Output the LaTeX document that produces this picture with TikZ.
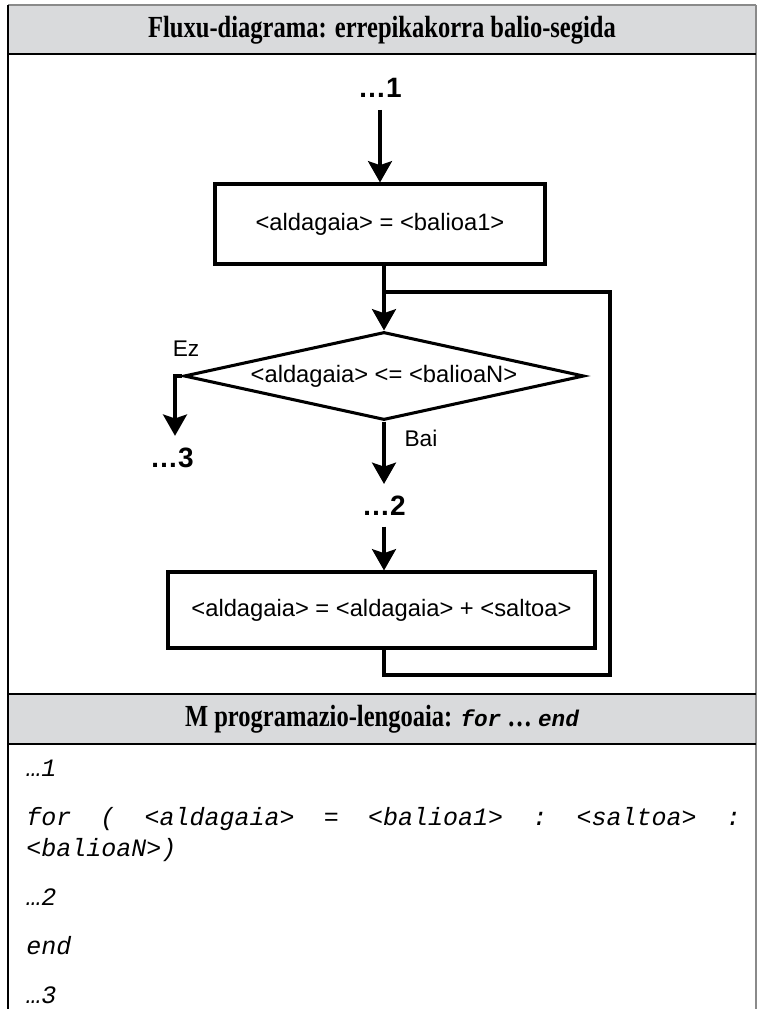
\documentclass[tikz,border=0pt]{standalone}
\usepackage{fontspec}
\setmainfont{Liberation Serif}
\newfontfamily\diagfont{Liberation Sans}
\newfontfamily\headfont[FakeStretch=0.8]{Liberation Serif}
\newfontfamily\codefont{Liberation Mono}
\usetikzlibrary{arrows.meta,shapes.geometric}
\definecolor{headgray}{HTML}{D9DADC}
\definecolor{edgegray}{HTML}{8A8A8A}

\begin{document}
\begin{tikzpicture}[
  x=0.75pt, y=-0.75pt,
  rule/.style={line width=1.1pt, black},
  flow/.style={line width=2.3pt, line join=miter},
  arr/.style={flow, -{Stealth[length=16pt,width=18pt,inset=3pt]}},
  stepbox/.style={draw, line width=2.3pt, inner sep=0pt,
    font=\diagfont\fontsize{17.8}{20}\selectfont},
  decision/.style={diamond, draw, line width=2.3pt, aspect=4.5, inner sep=0pt,
    minimum width=300pt, minimum height=66pt,
    font=\diagfont\fontsize{17.8}{20}\selectfont},
  marker/.style={inner sep=0pt, font=\diagfont\bfseries\fontsize{21}{24}\selectfont},
  answer/.style={inner sep=0pt, font=\diagfont\fontsize{17}{20}\selectfont},
  headtext/.style={inner sep=0pt, font=\headfont\bfseries\fontsize{23}{26}\selectfont},
  codeline/.style={anchor=base west, inner sep=0pt,
    font=\codefont\itshape\fontsize{18.75}{22}\selectfont},
  keyword/.style={font=\codefont\bfseries\itshape\fontsize{17}{20}\selectfont},
]
\useasboundingbox (0,0) rectangle (757,1009);

% table: header bands
\fill[headgray] (8,5) rectangle (756,54);
\fill[headgray] (8,694) rectangle (756,744);
% table: rules
\draw[line width=1.1pt, edgegray] (8,5) -- (756,5);
\draw[line width=1.1pt, edgegray] (756,5) -- (756,1009);
\draw[rule] (8,5) -- (8,1009);
\draw[rule] (8,54) -- (756,54);
\draw[rule] (8,694) -- (756,694);
\draw[rule] (8,744) -- (756,744);

% headings
\node[headtext] (h1) at (382,30) {Fluxu-diagrama: errepikakorra balio-segida};
\node[headtext] (h2) at (382,719) {M programazio-lengoaia: {\codefont\bfseries\itshape\fontsize{17}{20}\selectfont for} … {\codefont\bfseries\itshape\fontsize{17}{20}\selectfont end}};

% flowchart
\node[marker] (l1) at (380,88) {…1};
\node[stepbox, minimum width=247.5pt, minimum height=60pt] (r1) at (380,224)
  {<aldagaia> = <balioa1>};
\node[decision] (d) at (384,376) {<aldagaia> <= <balioaN>};
\node[answer] (ez) at (186,349) {Ez};
\node[answer] (bai) at (421,438) {Bai};
\node[marker] (l3) at (172,458) {…3};
\node[marker] (l2) at (384,506) {…2};
\node[stepbox, minimum width=320.25pt, minimum height=57pt] (r2) at (381.5,610)
  {<aldagaia> = <aldagaia> + <saltoa>};

\coordinate (jn) at (384,292);
\coordinate (rt) at (610,292);
\coordinate (lb) at (384,675);
\coordinate (ezc) at (175,376);

\draw[arr, shorten <=9pt] (l1.south) -- (l1.south |- r1.north);
\draw[arr] (r1.south -| d.north) -- (d.north);
\draw[flow] (r2.south -| lb) -- (lb) -| (rt) -- (jn);
\draw[arr, shorten >=9pt] (d.west) -- (ezc) -- (ezc |- l3.north);
\draw[arr, shorten >=9pt] (d.south) -- (l2.north);
\draw[arr, shorten <=8pt] (l2.south) -- (l2.south |- r2.north);

% code listing
\node[codeline] (c1) at (26,776) {…1};
\node[codeline] (c2) at (26,825) {\makebox[536pt][s]{for\hfill(\hfill<aldagaia>\hfill=\hfill<balioa1>\hfill:\hfill<saltoa>\hfill:}};
\node[codeline] (c3) at (26,856) {<balioaN>)};
\node[codeline] (c4) at (26,905) {…2};
\node[codeline] (c5) at (26,954) {end};
\node[codeline] (c6) at (26,1003) {…3};
\end{tikzpicture}
\end{document}
